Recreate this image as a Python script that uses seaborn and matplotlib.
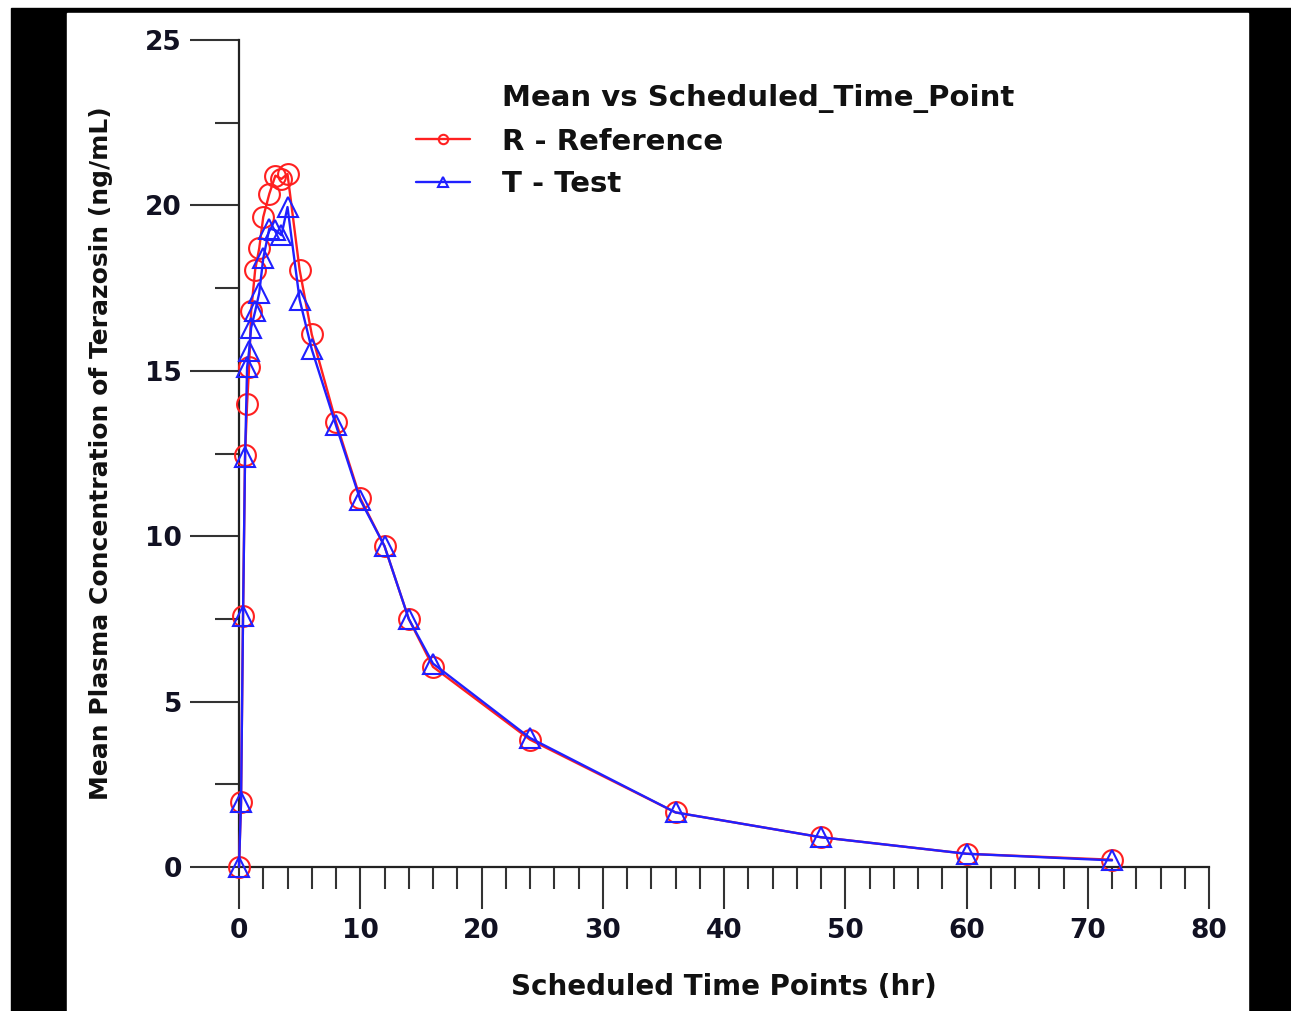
import numpy as np
import pandas as pd
import seaborn as sns
import matplotlib
matplotlib.use("Agg")
import matplotlib.pyplot as plt
from matplotlib.lines import Line2D
from matplotlib.patches import Rectangle
from matplotlib.ticker import MultipleLocator

# scheduled sampling times (hr)
time_hr = [0, 0.167, 0.333, 0.5, 0.667, 0.833, 1, 1.333, 1.667, 2, 2.5, 3, 3.5, 4,
           5, 6, 8, 10, 12, 14, 16, 24, 36, 48, 60, 72]

# mean plasma concentration (ng/mL)
ref_conc = [0, 1.95, 7.6, 12.45, 14.0, 15.1, 16.8, 18.05, 18.7, 19.65, 20.35, 20.9, 20.8, 20.95,
            18.05, 16.1, 13.45, 11.15, 9.7, 7.5, 6.05, 3.85, 1.65, 0.9, 0.4, 0.22]
test_conc = [0, 1.95, 7.6, 12.4, 15.1, 15.6, 16.3, 16.8, 17.35, 18.4, 19.3, 19.25, 19.1, 19.95,
             17.15, 15.65, 13.35, 11.1, 9.7, 7.5, 6.15, 3.9, 1.65, 0.9, 0.4, 0.2]

series_names = ["R - Reference", "T - Test"]
legend_title = "Mean vs Scheduled_Time_Point"

df = pd.DataFrame({
    "time": time_hr * 2,
    "conc": ref_conc + test_conc,
    "trt": [series_names[0]] * len(time_hr) + [series_names[1]] * len(time_hr),
})

sns.set_theme(style="ticks", rc={
    "xtick.bottom": True, "ytick.left": True,
    "xtick.major.size": 30, "xtick.minor.size": 16,
    "ytick.major.size": 35, "ytick.minor.size": 17,
    "xtick.major.width": 1.5, "xtick.minor.width": 1.5,
    "ytick.major.width": 1.5, "ytick.minor.width": 1.5,
    "xtick.color": "#333333", "ytick.color": "#333333",
    "text.color": "#111111", "axes.labelcolor": "#111111",
})
plt.rcParams["font.family"] = ["DejaVu Sans"]
plt.rcParams["font.weight"] = "bold"

W, H = 1291, 1011
fig = plt.figure(figsize=(W / 100, H / 100), dpi=100)
fig.patch.set_facecolor("white")
# black frame around the picture
fig.add_artist(Rectangle((11 / W, 0), 1 - 11 / W, 1 - 8 / H, transform=fig.transFigure,
                         color="black", zorder=-2))
fig.add_artist(Rectangle((67 / W, 0), (1248 - 67) / W, 1 - 13 / H, transform=fig.transFigure,
                         color="white", zorder=-1))

ax = fig.add_axes([239 / W, (H - 867) / H, (1209 - 239) / W, (867 - 40) / H])
ax.set_facecolor("white")

colors = {series_names[0]: "#ff2020", series_names[1]: "#2020ff"}
markers = {series_names[0]: "o", series_names[1]: "^"}
for name in series_names:
    sub = df[df["trt"] == name]
    sns.lineplot(data=sub, x="time", y="conc", ax=ax, color=colors[name], lw=1.7,
                 marker=markers[name], markersize=15, markerfacecolor="none",
                 markeredgecolor=colors[name], markeredgewidth=1.5, label=name,
                 clip_on=False, zorder=3)

ax.set_xlim(0, 80)
ax.set_ylim(0, 25)
ax.xaxis.set_major_locator(MultipleLocator(10))
ax.xaxis.set_minor_locator(MultipleLocator(2))
ax.yaxis.set_major_locator(MultipleLocator(5))
ax.yaxis.set_minor_locator(MultipleLocator(2.5))

for side in ["top", "right"]:
    ax.spines[side].set_visible(False)
for side in ["left", "bottom"]:
    ax.spines[side].set_color("#222222")
    ax.spines[side].set_linewidth(1.6)

ax.tick_params(axis="y", which="major", labelsize=19, pad=6)
ax.tick_params(axis="x", which="major", labelsize=19, pad=7)
for lab in ax.get_xticklabels() + ax.get_yticklabels():
    lab.set_fontweight("bold")
    lab.set_color("#111122")

ax.set_xlabel("Scheduled Time Points (hr)", fontsize=20, fontweight="bold")
ax.set_ylabel("Mean Plasma Concentration of Terazosin (ng/mL)", fontsize=18,
              fontweight="bold")
ax.xaxis.set_label_coords(0.5, (867 - 973) / (867 - 40))
ax.yaxis.set_label_coords((113 - 239) / (1209 - 239), 0.5)

handles, labels = ax.get_legend_handles_labels()
blank = Line2D([], [], color="none")
leg = ax.legend([blank] + handles, [legend_title] + labels, loc="upper left",
                bbox_to_anchor=((416 - 239) / 970, (867 - 84) / 827), borderaxespad=0,
                frameon=False, fontsize=21, handlelength=1.85, handletextpad=1.1,
                labelspacing=0.5, borderpad=0, markerscale=0.45)
for t in leg.get_texts():
    t.set_fontweight("bold")
    t.set_color("#111111")

fig.savefig("out.png", dpi=100, facecolor=fig.get_facecolor())
